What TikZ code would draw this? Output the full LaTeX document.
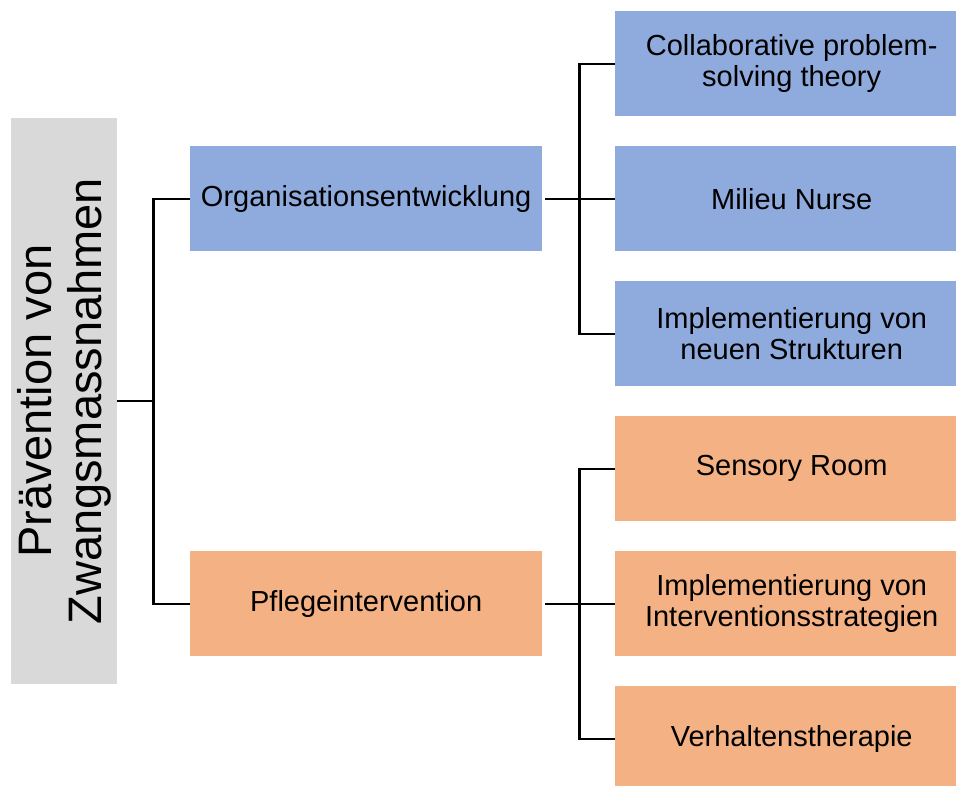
\documentclass[tikz,border=0pt]{standalone}
\usepackage{fontspec}
\setmainfont{Liberation Sans}
\definecolor{bblue}{HTML}{8FAADC}
\definecolor{borange}{HTML}{F4B183}
\definecolor{bgrey}{HTML}{D9D9D9}
\begin{document}
\begin{tikzpicture}[x=1pt,y=-1pt,
  box/.style={draw=none,minimum width=#1,align=center,font=\fontsize{29}{31}\selectfont,inner sep=0pt},
  mid/.style={box=352pt,minimum height=105pt},
  leaf/.style={box=353pt,minimum height=105pt},
  conn/.style={line width=2.2pt,black}]
\useasboundingbox (0,0) rectangle (956,786);
\node[fill=bgrey,minimum width=106pt,minimum height=566pt,inner sep=0pt,anchor=north west] (root) at (11,118) {};
\node[rotate=90,align=center,font=\fontsize{47}{50}\selectfont] (rootlbl) at (root.center) {Prävention von\\Zwangsmassnahmen};
\node[mid,fill=bblue,anchor=north west] (org) at (190,146) {Organisationsentwicklung};
\node[mid,fill=borange,anchor=north west] (pfl) at (190,551) {Pflegeintervention};
\node[leaf,fill=bblue,anchor=north west] (c1) at (615,11) {Collaborative problem-\\solving theory};
\node[leaf,fill=bblue,anchor=north west] (c2) at (615,146) {Milieu Nurse};
\node[leaf,fill=bblue,anchor=north west] (c3) at (615,281) {Implementierung von\\neuen Strukturen};
\node[leaf,fill=borange,anchor=north west] (d1) at (615,416) {Sensory Room};
\node[leaf,fill=borange,anchor=north west] (d2) at (615,551) {Implementierung von\\Interventionsstrategien};
\node[leaf,fill=borange,anchor=north west] (d3) at (615,686) {Verhaltenstherapie};
\draw[conn] (root.east) -- ++(36,0) coordinate (rj);
\draw[conn] (org.west) -| (rj) |- (pfl.west);
\draw[conn] (org.east) ++(3,0) -- ++(34,0) coordinate (oj);
\draw[conn] (c1.west) -| (oj) |- (c3.west);
\draw[conn] (oj) -- (c2.west);
\draw[conn] (pfl.east) ++(3,0) -- ++(34,0) coordinate (pj);
\draw[conn] (d1.west) -| (pj) |- (d3.west);
\draw[conn] (pj) -- (d2.west);
\end{tikzpicture}
\end{document}
